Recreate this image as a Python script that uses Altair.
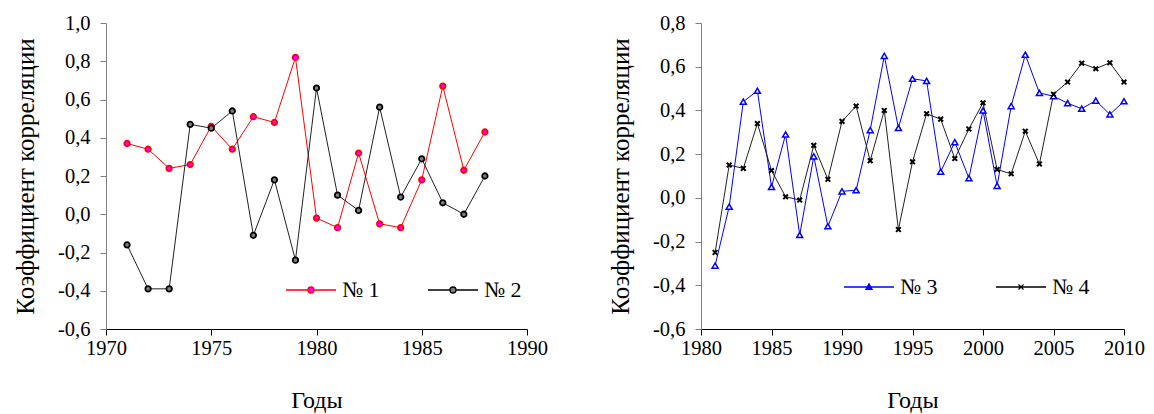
import altair as alt
import pandas as pd

FONT = "Liberation Serif"

years_a = list(range(1971, 1989))
s1 = [0.37, 0.34, 0.24, 0.26, 0.46, 0.34, 0.51, 0.48, 0.82, -0.02, -0.07, 0.32, -0.05, -0.07, 0.18, 0.67, 0.23, 0.43]
s2 = [-0.16, -0.39, -0.39, 0.47, 0.45, 0.54, -0.11, 0.18, -0.24, 0.66, 0.10, 0.02, 0.56, 0.09, 0.29, 0.06, 0.00, 0.20]

years_b = list(range(1981, 2011))
s3 = [-0.31, -0.04, 0.44, 0.49, 0.05, 0.29, -0.17, 0.19, -0.13, 0.03, 0.035, 0.31, 0.65, 0.32, 0.545, 0.535,
      0.12, 0.255, 0.09, 0.40, 0.055, 0.42, 0.655, 0.48, 0.465, 0.433, 0.408, 0.445, 0.382, 0.442]
s4 = [-0.25, 0.15, 0.135, 0.34, 0.125, 0.005, -0.01, 0.24, 0.085, 0.35, 0.42, 0.17, 0.40, -0.145, 0.165, 0.385,
      0.36, 0.18, 0.315, 0.435, 0.13, 0.11, 0.305, 0.155, 0.474, 0.53, 0.616, 0.591, 0.618, 0.53]

names_a = ["№ 1", "№ 2"]
names_b = ["№ 3", "№ 4"]
x_ticks_a = [1970, 1975, 1980, 1985, 1990]
x_ticks_b = [1980, 1985, 1990, 1995, 2000, 2005, 2010]
y_ticks_a = [-0.6, -0.4, -0.2, 0.0, 0.2, 0.4, 0.6, 0.8, 1.0]
y_ticks_b = [-0.6, -0.4, -0.2, 0.0, 0.2, 0.4, 0.6, 0.8]

df_a = pd.DataFrame({
    "year": years_a + years_a,
    "value": s1 + s2,
    "series": [names_a[0]] * len(years_a) + [names_a[1]] * len(years_a),
})
df_b = pd.DataFrame({
    "year": years_b + years_b,
    "value": s3 + s4,
    "series": [names_b[0]] * len(years_b) + [names_b[1]] * len(years_b),
})

XPATH = "M-1,-1L1,1M-1,1L1,-1"

LEG_CIRCLE = "M-1,0H-0.12M0.12,0H1M0.12,0A0.12,0.12,0,1,1,-0.12,0A0.12,0.12,0,1,1,0.12,0Z"
LEG_TRI = "M-1,0H1M0,-0.13L0.12,0.09L-0.12,0.09Z"
LEG_X = "M-1,0H1M-0.1,-0.1L0.1,0.1M-0.1,0.1L0.1,-0.1"

ylabel = "(datum.value < 0 ? '-' : '') + replace(format(abs(datum.value), '.1f'), '.', ',')"


def panel(df, names, xdom, xticks, ydom, yticks, line_colors, point_specs,
          leg_paths, leg_strokes, leg_fills, leg_x, leg_y, colpad, w, h):
    xaxis = alt.Axis(values=xticks, format="d", grid=False, labelFont=FONT, labelFontSize=20.5,
                     labelColor="black", tickSize=6, tickColor="black", domainColor="black",
                     labelPadding=3, titleFont=FONT, titleFontSize=24, titleFontWeight="normal",
                     titleColor="black", titlePadding=30, labelFlush=False)
    yaxis = alt.Axis(values=yticks, labelExpr=ylabel, grid=False, labelFont=FONT, labelFontSize=20.5,
                     labelColor="black", tickSize=6, tickColor="#808080", domainColor="#808080",
                     labelPadding=10, titleFont=FONT, titleFontSize=25, titleFontWeight="normal",
                     titleColor="black", titlePadding=19)
    base = alt.Chart(df).encode(
        x=alt.X("year:Q", scale=alt.Scale(domain=xdom, nice=False, zero=False), axis=xaxis, title="Годы"),
        y=alt.Y("value:Q", scale=alt.Scale(domain=ydom, nice=False, zero=False), axis=yaxis,
                title="Коэффициент корреляции"),
    )
    layers = []
    for name, col in zip(names, line_colors):
        layers.append(
            base.transform_filter(alt.datum.series == name).mark_line(strokeWidth=1, color=col)
        )
    for name, spec in zip(names, point_specs):
        layers.append(
            base.transform_filter(alt.datum.series == name).mark_point(opacity=1, **spec)
        )
    leg = alt.Legend(orient="none", legendX=leg_x, legendY=leg_y, direction="horizontal", title=None,
                     symbolSize=2500, symbolStrokeWidth=1.3, labelFont=FONT, labelFontSize=22,
                     labelColor="black", labelOffset=5, columnPadding=colpad)
    legend_layer = base.transform_filter("false").mark_point(opacity=1, filled=False).encode(
        shape=alt.Shape("series:N", scale=alt.Scale(domain=names, range=leg_paths), legend=leg),
        stroke=alt.Stroke("series:N", scale=alt.Scale(domain=names, range=leg_strokes), legend=leg),
        fill=alt.Fill("series:N", scale=alt.Scale(domain=names, range=leg_fills), legend=leg),
    )
    layers.append(legend_layer)
    return alt.layer(*layers).properties(width=w, height=h)


left = panel(
    df_a, names_a, [1970, 1990], x_ticks_a, [-0.6, 1.0], y_ticks_a,
    ["#FF0000", "#222222"],
    [dict(shape="circle", size=30, filled=True, fill="#FF00FF", stroke="#FF0000", strokeWidth=1.8),
     dict(shape="circle", size=30, filled=True, fill="#808080", stroke="#000000", strokeWidth=1.8)],
    [LEG_CIRCLE, LEG_CIRCLE], ["#FF0000", "#000000"], ["#FF00FF", "#808080"],
    179, 241, 45, 421, 306,
)
right = panel(
    df_b, names_b, [1980, 2010], x_ticks_b, [-0.6, 0.8], y_ticks_b,
    ["#0000FF", "#222222"],
    [dict(shape="triangle-up", size=36, filled=True, fill="#FFFFFF", stroke="#0000FF", strokeWidth=1.5),
     dict(shape=XPATH, size=22, filled=False, stroke="#000000", strokeWidth=2)],
    [LEG_TRI, LEG_X], ["#0000FF", "#000000"], ["#0000FF", "#000000"],
    142, 238, 55, 423, 306,
)

chart = (
    alt.hconcat(left, right, spacing=60)
    .resolve_scale(shape="independent", stroke="independent", fill="independent")
    .resolve_legend(shape="independent", stroke="independent", fill="independent")
    .properties(padding={"left": 5, "top": 5, "right": 0, "bottom": 0})
    .configure_view(stroke=None)
)

chart.save("out.html", embed_options={"renderer": "svg", "actions": False})
